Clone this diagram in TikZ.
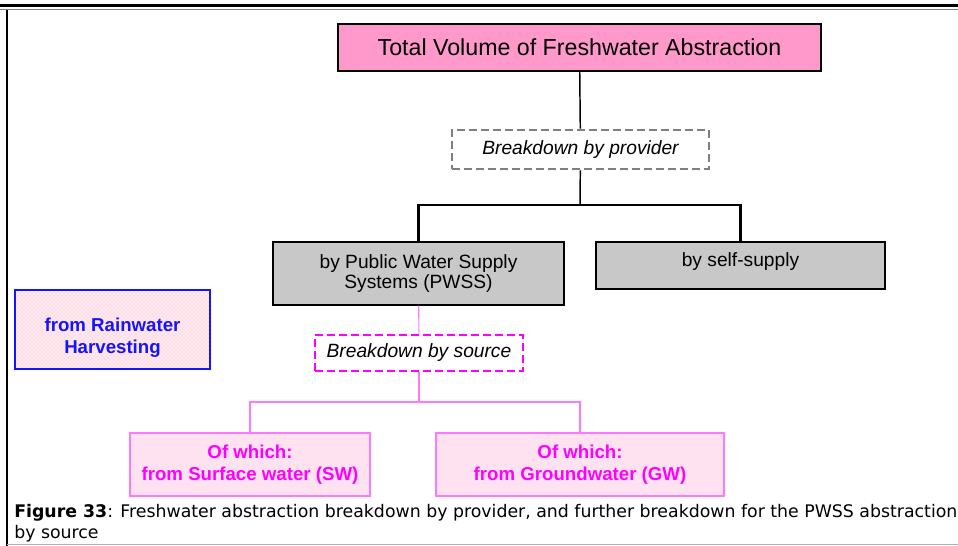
\documentclass[tikz,border=0pt]{standalone}
\usepackage{fontspec}
\setmainfont{Liberation Sans}
\newfontfamily\capfont{DejaVu Sans}
\usetikzlibrary{positioning,patterns}
\definecolor{boxpink}{RGB}{255,153,204}
\definecolor{boxgray}{RGB}{200,200,200}
\definecolor{lightpink}{RGB}{255,226,240}
\definecolor{magline}{RGB}{255,120,255}
\definecolor{magtext}{RGB}{255,0,255}
\definecolor{dashgray}{RGB}{128,128,128}
\definecolor{rainblue}{RGB}{20,20,255}

\begin{document}
\begin{tikzpicture}[x=0.75pt, y=-0.75pt, line join=miter,
  every node/.style={inner sep=0pt, align=center},
  totalbox/.style={draw=black, line width=1.5pt, fill=boxpink, font=\fontsize{17.4}{20}\selectfont},
  graybox/.style={draw=black, line width=1.1pt, fill=boxgray, font=\fontsize{14.4}{15}\selectfont},
  splitbox/.style={dashed, dash pattern=on 6pt off 3pt, line width=2pt, font=\itshape\fontsize{14.4}{16}\selectfont},
  pinkbox/.style={draw=magline, line width=1pt, fill=lightpink, text=magtext, font=\bfseries\fontsize{14}{16.5}\selectfont},
  link/.style={draw=black, line width=1.1pt},
  pinklink/.style={draw=magline, line width=.8pt}]
\useasboundingbox (0,0) rectangle (958,546);
% Frame
\draw[line width=2.2pt] (0,5.5) -- (958,5.5);
\draw[gray, line width=1pt] (0,9.5) -- (958,9.5);
\draw[line width=1.2pt] (7,10) -- (7,546);
\draw[gray!60, line width=1pt] (7,544.5) -- (958,544.5);
% Boxes
\node[totalbox, minimum width=362.25pt, minimum height=35.25pt] (total) at (579.5,47.5) {\raisebox{1pt}{Total Volume of Freshwater Abstraction}};
\node[splitbox, draw=dashgray, minimum width=192.75pt, minimum height=29.25pt] (byprov) at (580.5,149.5) {Breakdown by provider};
\node[graybox, minimum width=218.25pt, minimum height=47.25pt] (pwss) at (418.5,273.5) {by Public Water Supply\\Systems (PWSS)};
\node[graybox, minimum width=216.75pt, minimum height=35.25pt, text depth=9pt] (self) at (740.5,265.5) {by self-supply};
\node[splitbox, draw=magtext, minimum width=156pt, minimum height=27pt] (bysrc) at (419,353) {Breakdown by source};
\node[pinkbox, minimum width=180pt, minimum height=47.25pt] (sw) at (250,464.5) {Of which:\\from Surface water (SW)};
\node[pinkbox, minimum width=216pt, minimum height=47.25pt] (gw) at (580,464.5) {Of which:\\from Groundwater (GW)};
\node[draw=rainblue, line width=1pt, preaction={fill=lightpink!70}, pattern=crosshatch dots, pattern color=pink!90!red,
  minimum width=146.25pt, minimum height=59.25pt] (rainbox) at (112.5,329.5) {};
\node[text=rainblue, font=\bfseries\fontsize{14}{16.5}\selectfont, yshift=-6pt] (rain) at (rainbox.center) {from Rainwater\\Harvesting};
% Links
\coordinate (pj) at (580,205);
\coordinate (sj) at (419,402);
\draw[link] (total) -- (byprov);
\draw[link] (byprov) -- (pj);
\draw[link, line width=1.6pt] (pwss.north) |- (pj) -| (self.north);
\draw[pinklink] (pwss) -- (bysrc);
\draw[pinklink] (bysrc) -- (sj);
\draw[pinklink] (sw.north) |- (sj) -| (gw.north);
% Caption
\node[anchor=north west, align=left, font=\capfont\fontsize{13}{15.5}\selectfont] (cap) at (14,504)
  {\textbf{Figure 33}: Freshwater abstraction breakdown by provider, and further breakdown for the PWSS abstraction\\by source};
\end{tikzpicture}
\end{document}
